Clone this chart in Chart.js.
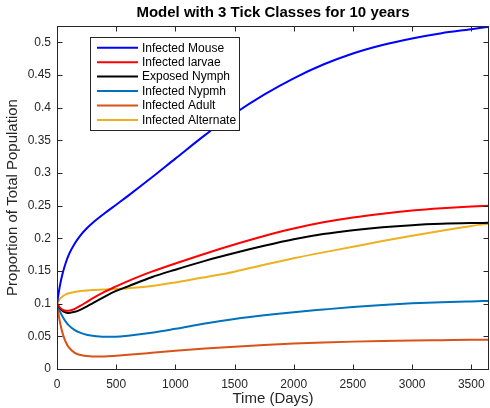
<!DOCTYPE html>
<html>
<head>
<meta charset="utf-8">
<script src="https://cdn.jsdelivr.net/npm/chart.js@4.4.1/dist/chart.umd.min.js"></script>
<style>
html,body{margin:0;padding:0;background:#fff;}
#wrap{width:490px;height:408px;}
</style>
</head>
<body>
<div id="wrap"><canvas id="c" width="490" height="408"></canvas></div>
<script>
const days = [0,25,50,75,100,150,200,250,300,400,500,600,800,1000,1250,1500,1750,2000,2250,2500,2750,3000,3250,3500,3650];
const infectedMouse = [0.1,0.128,0.148,0.163,0.175,0.192,0.205,0.215,0.2235,0.238,0.2515,0.265,0.293,0.322,0.358,0.391,0.420,0.445,0.466,0.483,0.496,0.506,0.514,0.520,0.524];
const infectedLarvae = [0.1,0.094,0.0905,0.0893,0.0893,0.092,0.097,0.1025,0.108,0.118,0.1265,0.1345,0.149,0.1615,0.1765,0.1905,0.2035,0.215,0.2245,0.232,0.2378,0.2425,0.246,0.2487,0.250];
const exposedNymph = [0.1,0.093,0.0885,0.0865,0.0858,0.0875,0.091,0.0955,0.1005,0.1105,0.1195,0.1265,0.1405,0.152,0.1655,0.1775,0.1885,0.1985,0.2065,0.2125,0.217,0.2202,0.2222,0.2233,0.2237];
const infectedNymph = [0.1,0.0883,0.0791,0.0722,0.0668,0.0595,0.0552,0.0525,0.051,0.0495,0.0495,0.051,0.0555,0.0615,0.0695,0.0765,0.0822,0.087,0.091,0.0948,0.098,0.1005,0.1022,0.1035,0.1042];
const infectedAdult = [0.1,0.0715,0.053,0.041,0.033,0.0248,0.0213,0.0198,0.0192,0.0192,0.0203,0.0217,0.0248,0.028,0.0312,0.0342,0.0368,0.039,0.0406,0.0419,0.0429,0.0436,0.0441,0.0446,0.0448];
const infectedAlternate = [0.1,0.1075,0.1115,0.1142,0.116,0.118,0.1193,0.1202,0.1208,0.1215,0.1225,0.1237,0.127,0.1325,0.1405,0.149,0.1595,0.1695,0.1785,0.187,0.1958,0.204,0.2117,0.219,0.2225];

const seriesLabels = ['Infected Mouse','Infected larvae','Exposed Nymph','Infected Nypmh','Infected Adult','Infected Alternate'];
const seriesColors = ['#0000FF','#FF0000','#000000','#0072BD','#D95319','#EDB120'];
const seriesValues = [infectedMouse, infectedLarvae, exposedNymph, infectedNymph, infectedAdult, infectedAlternate];

const xTicks = [0,500,1000,1500,2000,2500,3000,3500];
const yTicks = [0,0.05,0.1,0.15,0.2,0.25,0.3,0.35,0.4,0.45,0.5];

const FONT = '"Liberation Sans", Arial, Helvetica, sans-serif';
const AXIS = '#262626';

const datasets = seriesValues.map((vals, i) => ({
  label: seriesLabels[i],
  data: days.map((d, j) => ({x: d, y: vals[j]})),
  borderColor: seriesColors[i],
  backgroundColor: seriesColors[i],
  borderWidth: 2,
  pointRadius: 0,
  fill: false,
  cubicInterpolationMode: 'monotone'
}));

const boxPlugin = {
  id: 'matlabBox',
  afterDraw(chart) {
    const ctx = chart.ctx;
    const a = chart.chartArea;
    const xs = chart.scales.x, ys = chart.scales.y;
    ctx.save();
    ctx.strokeStyle = AXIS;
    ctx.lineWidth = 1;
    const L = Math.round(a.left) + 0.5, R = Math.round(a.right) - 0.5;
    const T = Math.round(a.top) + 0.5, B = Math.round(a.bottom) + 0.5;
    ctx.strokeRect(L, T, R - L, B - T);
    ctx.beginPath();
    const tl = 5;
    xTicks.forEach(v => {
      const p = Math.round(xs.getPixelForValue(v)) + 0.5;
      ctx.moveTo(p, B); ctx.lineTo(p, B - tl);
      ctx.moveTo(p, T); ctx.lineTo(p, T + tl);
    });
    yTicks.forEach(v => {
      const p = Math.round(ys.getPixelForValue(v)) + 0.5;
      ctx.moveTo(L, p); ctx.lineTo(L + tl, p);
      ctx.moveTo(R, p); ctx.lineTo(R - tl, p);
    });
    ctx.stroke();

    // legend box
    const lx = 90.5, ly = 37.5, lw = 149, lh = 93;
    ctx.fillStyle = '#ffffff';
    ctx.fillRect(lx, ly, lw, lh);
    ctx.strokeStyle = AXIS;
    ctx.strokeRect(lx, ly, lw, lh);
    ctx.font = '12px ' + FONT;
    ctx.textBaseline = 'middle';
    ctx.textAlign = 'left';
    chart.data.datasets.forEach((ds, i) => {
      const y = 47.7 + i * 14.46;
      ctx.strokeStyle = ds.borderColor;
      ctx.lineWidth = 2;
      ctx.beginPath();
      ctx.moveTo(97, y); ctx.lineTo(138, y);
      ctx.stroke();
      ctx.fillStyle = '#000000';
      ctx.fillText(ds.label, 142, y + 0.5);
    });
    ctx.restore();
  }
};

new Chart(document.getElementById('c'), {
  type: 'line',
  data: { datasets },
  options: {
    responsive: false,
    animation: false,
    devicePixelRatio: 1,
    layout: { padding: { left: 0, right: 1, top: 0, bottom: 0 } },
    plugins: {
      legend: { display: false },
      tooltip: { enabled: false },
      title: {
        display: true,
        text: 'Model with 3 Tick Classes for 10 years',
        fullSize: false,
        color: '#000000',
        font: { family: FONT, size: 15, weight: 'bold', lineHeight: 1.2 },
        padding: { top: 4, bottom: 4 }
      }
    },
    scales: {
      x: {
        type: 'linear',
        min: 0,
        max: 3650,
        grid: { display: false, drawTicks: false },
        border: { display: false },
        afterBuildTicks(scale) { scale.ticks = xTicks.map(v => ({ value: v })); },
        afterFit(scale) { scale.height = 39; scale.paddingLeft = 0; scale.paddingRight = 0; },
        ticks: {
          color: AXIS,
          padding: 8,
          maxRotation: 0,
          autoSkip: false,
          font: { family: FONT, size: 12 },
          callback: v => String(v)
        },
        title: {
          display: true,
          text: 'Time (Days)',
          color: AXIS,
          font: { family: FONT, size: 15 },
          padding: { top: 0, bottom: 0 }
        }
      },
      y: {
        type: 'linear',
        min: 0,
        max: 0.525,
        grid: { display: false, drawTicks: false },
        border: { display: false },
        afterBuildTicks(scale) { scale.ticks = yTicks.map(v => ({ value: v })); },
        afterFit(scale) { scale.width = 57; scale.paddingTop = 0; scale.paddingBottom = 0; },
        ticks: {
          color: AXIS,
          padding: 6,
          autoSkip: false,
          font: { family: FONT, size: 12 },
          callback: v => String(Math.round(v * 100) / 100)
        },
        title: {
          display: true,
          text: 'Proportion of Total Population',
          color: AXIS,
          font: { family: FONT, size: 15 },
          padding: { top: 4, bottom: 0 }
        }
      }
    }
  },
  plugins: [boxPlugin]
});
</script>
</body>
</html>
